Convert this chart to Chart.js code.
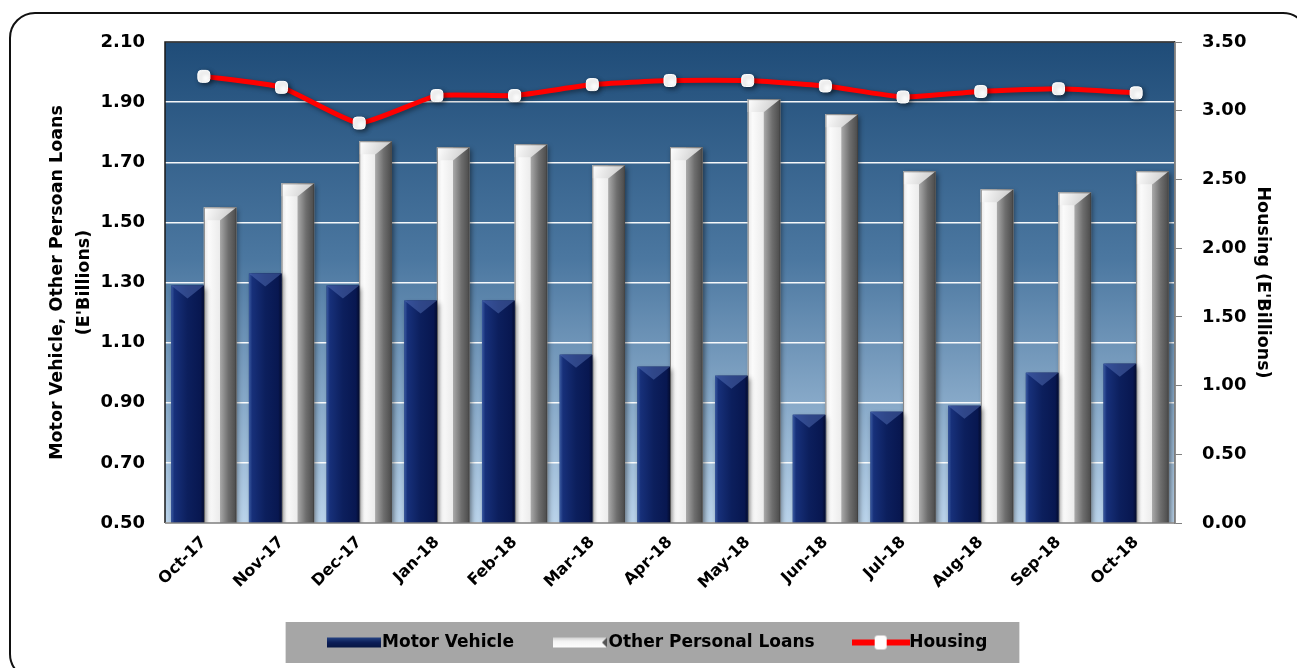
<!DOCTYPE html>
<html>
<head>
<meta charset="utf-8">
<script src="https://cdn.jsdelivr.net/npm/chart.js@4.4.1/dist/chart.umd.min.js"></script>
<style>
  html, body { margin: 0; padding: 0; background: #fff; overflow: hidden; }
  #wrap { position: relative; width: 1297px; height: 668px; overflow: hidden; }
  #frame {
    position: absolute; left: 9px; top: 12px; width: 1300px; height: 668px;
    border: 2px solid #111; border-radius: 26px; box-sizing: border-box;
  }
  canvas { position: absolute; left: 0; top: 0; }
</style>
</head>
<body>
<div id="wrap">
  <div id="frame"></div>
  <canvas id="loansChart" width="1297" height="668"></canvas>
</div>
<script>
// monthly loan balances, E'Billions

const months = ["Oct-17", "Nov-17", "Dec-17", "Jan-18", "Feb-18", "Mar-18", "Apr-18",
  "May-18", "Jun-18", "Jul-18", "Aug-18", "Sep-18", "Oct-18"];
const motorVehicle = [1.29, 1.33, 1.29, 1.24, 1.24, 1.06, 1.02, 0.99, 0.86, 0.87, 0.89, 1.00, 1.03];
const otherPersonal = [1.55, 1.63, 1.77, 1.75, 1.76, 1.69, 1.75, 1.91, 1.86, 1.67, 1.61, 1.60, 1.67];
const housing = [3.25, 3.17, 2.91, 3.11, 3.11, 3.19, 3.22, 3.22, 3.18, 3.10, 3.14, 3.16, 3.13];

const leftTicks = [0.5, 0.7, 0.9, 1.1, 1.3, 1.5, 1.7, 1.9, 2.1];
const rightTicks = [0, 0.5, 1, 1.5, 2, 2.5, 3, 3.5];

const FONT = "'DejaVu Sans', sans-serif";
const PAD_L = 44, PAD_R = 20;

// little canvases used as legend markers
function makeMarker(w, h, paint) {
  const c = document.createElement("canvas");
  c.width = w;
  c.height = h;
  paint(c.getContext("2d"), w, h);
  return c;
}

const navyMarker = makeMarker(54, 12, (g, w, h) => {
  const gr = g.createLinearGradient(0, 0, 0, h);
  gr.addColorStop(0, "#2b4a8c");
  gr.addColorStop(0.5, "#0b1d57");
  gr.addColorStop(1, "#06143f");
  g.fillStyle = gr;
  g.fillRect(0, 1, w, h - 2);
});

const whiteMarker = makeMarker(54, 12, (g, w, h) => {
  const gr = g.createLinearGradient(0, 0, 0, h);
  gr.addColorStop(0, "#c8c8c8");
  gr.addColorStop(0.4, "#f4f4f4");
  gr.addColorStop(1, "#ffffff");
  g.fillStyle = gr;
  g.fillRect(0, 1, w, h - 2);
  g.fillStyle = "#555";
  g.beginPath();
  g.moveTo(w, 1);
  g.lineTo(w - 5, h / 2);
  g.lineTo(w, h - 1);
  g.fill();
});

const lineMarker = makeMarker(58, 16, (g, w, h) => {
  g.fillStyle = "#ff0000";
  g.fillRect(0, h / 2 - 3, w, 6);
  g.fillStyle = "#ffffff";
  g.beginPath();
  g.roundRect(w / 2 - 6, h / 2 - 7, 12, 14, 3);
  g.fill();
});

const markers = [navyMarker, whiteMarker, lineMarker];
const legendGap = ["\u2003\u2003", "\u2003\u2003", ""];

// plot area gradient + frame, grey legend band
const backdrop = {
  id: "backdrop",
  beforeDraw(chart) {
    const { ctx, chartArea: a, legend } = chart;
    ctx.save();
    const gr = ctx.createLinearGradient(0, a.top, 0, a.bottom);
    gr.addColorStop(0, "#1f4c78");
    gr.addColorStop(0.45, "#4b77a0");
    gr.addColorStop(1, "#bad3ea");
    ctx.fillStyle = gr;
    ctx.fillRect(a.left, a.top, a.right - a.left, a.bottom - a.top);

    if (legend && legend.legendHitBoxes.length) {
      const boxes = legend.legendHitBoxes;
      const last = boxes[boxes.length - 1];
      const x0 = boxes[0].left - 48;
      const x1 = last.left + last.width + 32;
      ctx.fillStyle = "#a6a6a6";
      ctx.fillRect(x0, boxes[0].top - 12, x1 - x0, boxes[0].height + 24);
    }
    ctx.restore();
  },
  afterDraw(chart) {
    const { ctx, chartArea: a } = chart;
    ctx.save();
    ctx.strokeStyle = "#1a1a1a";
    ctx.lineWidth = 1.5;
    ctx.beginPath();
    ctx.moveTo(a.left, a.bottom);
    ctx.lineTo(a.left, a.top);
    ctx.lineTo(a.right, a.top);
    ctx.stroke();
    ctx.strokeStyle = "#7f7f7f";
    ctx.beginPath();
    ctx.moveTo(a.right, a.top);
    ctx.lineTo(a.right, a.bottom);
    ctx.lineTo(a.left, a.bottom);
    ctx.stroke();
    ctx.restore();
  }
};

// bevel shading painted over the bars the library has drawn
const bevel = {
  id: "bevel",
  beforeDatasetDraw(chart, args) {
    const ctx = chart.ctx;
    ctx.save();
    ctx.shadowColor = "rgba(0,0,0,0.45)";
    ctx.shadowBlur = 5;
    ctx.shadowOffsetX = 2;
    ctx.shadowOffsetY = 2;
  },
  afterDatasetDraw(chart, args) {
    const ctx = chart.ctx;
    ctx.restore();
    if (args.index > 1) return;
    ctx.save();
    ctx.beginPath();
    ctx.rect(chart.chartArea.left, chart.chartArea.top,
      chart.chartArea.right - chart.chartArea.left, chart.chartArea.bottom - chart.chartArea.top);
    ctx.clip();
    args.meta.data.forEach((bar) => {
      const x0 = bar.x - bar.width / 2;
      const x1 = bar.x + bar.width / 2;
      const top = bar.y;
      const bot = bar.base;
      const w = x1 - x0;
      const b = Math.min(13, (bot - top) / 2);
      if (args.index === 0) {
        const gr = ctx.createLinearGradient(x0, 0, x1, 0);
        gr.addColorStop(0, "#3a5aa0");
        gr.addColorStop(0.1, "#17307a");
        gr.addColorStop(0.5, "#0c1f5d");
        gr.addColorStop(0.9, "#081750");
        gr.addColorStop(1, "#040c30");
        ctx.fillStyle = gr;
        ctx.fillRect(x0, top, w, bot - top);
        ctx.fillStyle = "rgba(90,120,190,0.45)";
        ctx.beginPath();
        ctx.moveTo(x0, top);
        ctx.lineTo(x1, top);
        ctx.lineTo(bar.x, top + b);
        ctx.closePath();
        ctx.fill();
        ctx.fillStyle = "rgba(0,0,20,0.35)";
        ctx.beginPath();
        ctx.moveTo(x0, bot);
        ctx.lineTo(x1, bot);
        ctx.lineTo(bar.x, bot - b);
        ctx.closePath();
        ctx.fill();
      } else {
        const gr = ctx.createLinearGradient(x0, 0, x1, 0);
        gr.addColorStop(0, "#e8e8e8");
        gr.addColorStop(0.15, "#fbfbfb");
        gr.addColorStop(0.48, "#ececec");
        gr.addColorStop(0.5, "#a8a8a8");
        gr.addColorStop(0.75, "#6e6e6e");
        gr.addColorStop(1, "#4a4a4a");
        ctx.fillStyle = gr;
        ctx.fillRect(x0, top, w, bot - top);
        // top bevel: light band with the diagonal on the right half
        const tg = ctx.createLinearGradient(x0, top, x1, top + b);
        tg.addColorStop(0, "#ffffff");
        tg.addColorStop(1, "#c4c4c4");
        ctx.fillStyle = tg;
        ctx.beginPath();
        ctx.moveTo(x0, top);
        ctx.lineTo(x1, top);
        ctx.lineTo(bar.x, top + b);
        ctx.lineTo(x0, top + b);
        ctx.closePath();
        ctx.fill();
        // bottom bevel
        ctx.fillStyle = "#9c9c9c";
        ctx.beginPath();
        ctx.moveTo(bar.x, bot - b);
        ctx.lineTo(x1, bot);
        ctx.lineTo(bar.x, bot);
        ctx.closePath();
        ctx.fill();
        ctx.strokeStyle = "rgba(60,60,60,0.6)";
        ctx.lineWidth = 1;
        ctx.strokeRect(x0 + 0.5, top + 0.5, w - 1, bot - top);
      }
    });
    ctx.restore();
  }
};

const ctx = document.getElementById("loansChart").getContext("2d");
const loansChart = new Chart(ctx, {
  type: "bar",
  data: {
    labels: months,
    datasets: [
      {
        label: "Motor Vehicle",
        data: motorVehicle,
        backgroundColor: "#0c1f5d",
        yAxisID: "y",
        categoryPercentage: 0.84,
        barPercentage: 1.0,
        order: 2,
      },
      {
        label: "Other Personal Loans",
        data: otherPersonal,
        backgroundColor: "#e6e6e6",
        yAxisID: "y",
        categoryPercentage: 0.84,
        barPercentage: 1.0,
        order: 2,
      },
      {
        type: "line",
        label: "Housing",
        data: housing,
        yAxisID: "y1",
        borderColor: "#ff0000",
        borderWidth: 5,
        tension: 0.15,
        pointStyle: "rectRounded",
        pointRadius: 7,
        pointBackgroundColor: "#ffffff",
        pointBorderColor: "#ffffff",
        pointBorderWidth: 1,
        order: 1,
      },
    ],
  },
  options: {
    responsive: false,
    animation: false,
    layout: { padding: { left: PAD_L, right: PAD_R, top: 42, bottom: 7 } },
    scales: {
      x: {
        grid: { display: false },
        border: { display: false },
        ticks: {
          color: "#000",
          font: { family: FONT, size: 16, weight: "bold" },
          minRotation: 45,
          maxRotation: 45,
          padding: 2,
        },
        afterFit(scale) { scale.height = 99; },
      },
      y: {
        position: "left",
        min: 0.5,
        max: 2.1,
        afterBuildTicks(scale) { scale.ticks = leftTicks.map((v) => ({ value: v })); },
        grid: {
          color: "rgba(255,255,255,0.95)",
          lineWidth: 1.5,
          drawTicks: false,
        },
        border: { display: false },
        ticks: {
          color: "#000",
          padding: 20,
          font: { family: FONT, size: 18, weight: "bold" },
          callback: (v) => v.toFixed(2),
        },
        title: {
          display: true,
          text: ["Motor Vehicle, Other Persoan Loans", "(E'Billions)"],
          color: "#000",
          font: { family: FONT, size: 17.5, weight: "bold", lineHeight: 1.55 },
          padding: 0,
        },
        afterFit(scale) { scale.width = 165 - PAD_L; },
      },
      y1: {
        position: "right",
        min: 0,
        max: 3.5,
        afterBuildTicks(scale) { scale.ticks = rightTicks.map((v) => ({ value: v })); },
        grid: {
          drawOnChartArea: false,
          color: "#808080",
          tickLength: 7,
        },
        border: { display: true, color: "#808080", width: 1.5 },
        ticks: {
          color: "#000",
          padding: 20,
          font: { family: FONT, size: 18, weight: "bold" },
          callback: (v) => v.toFixed(2),
        },
        title: {
          display: true,
          text: "Housing (E'Billions)",
          color: "#000",
          font: { family: FONT, size: 17.5, weight: "bold" },
          padding: 4,
        },
        afterFit(scale) { scale.width = 1297 - PAD_R - 1175; },
      },
    },
    plugins: {
      tooltip: { enabled: false },
      legend: {
        position: "bottom",
        labels: {
          color: "#000",
          font: { family: FONT, size: 17, weight: "bold" },
          usePointStyle: true,
          pointStyleWidth: 40,
          padding: 12,
          generateLabels(chart) {
            return chart.data.datasets.map((ds, i) => ({
              text: ds.label + legendGap[i],
              pointStyle: markers[i],
              fontColor: "#000",
              hidden: false,
              datasetIndex: i,
              lineWidth: 0,
            }));
          },
        },
      },
    },
  },
  plugins: [backdrop, bevel],
});
</script>
</body>
</html>
